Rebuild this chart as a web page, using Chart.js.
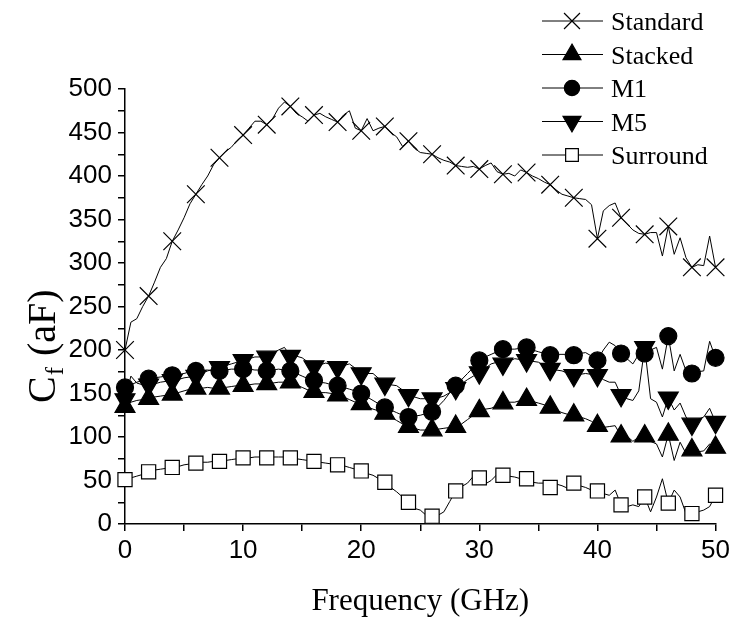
<!DOCTYPE html>
<html>
<head>
<meta charset="utf-8">
<title>Cf vs Frequency</title>
<script src="https://cdn.jsdelivr.net/npm/chart.js@4.4.0/dist/chart.umd.min.js"></script>
<style>
	html, body { margin: 0; padding: 0; background: #fff; }
	canvas { display: block; }
</style>
</head>
<body>
<canvas id="grafica" width="734" height="618"></canvas>
<script>
// Frecuencias (GHz) de cada muestra
var frecuencias = [
	0, 0.5, 1, 1.5, 2, 2.5, 3, 3.5, 4, 4.5,
	5, 5.5, 6, 6.5, 7, 7.5, 8, 8.5, 9, 9.5,
	10, 10.5, 11, 11.5, 12, 12.5, 13, 13.5, 14, 14.5,
	15, 15.5, 16, 16.5, 17, 17.5, 18, 18.5, 19, 19.5,
	20, 20.5, 21, 21.5, 22, 22.5, 23, 23.5, 24, 24.5,
	25, 25.5, 26, 26.5, 27, 27.5, 28, 28.5, 29, 29.5,
	30, 30.5, 31, 31.5, 32, 32.5, 33, 33.5, 34, 34.5,
	35, 35.5, 36, 36.5, 37, 37.5, 38, 38.5, 39, 39.5,
	40, 40.5, 41, 41.5, 42, 42.5, 43, 43.5, 44, 44.5,
	45, 45.5, 46, 46.5, 47, 47.5, 48, 48.5, 49, 49.5,
	50
];

// Cf (aF) de cada estructura
var serieStandard = [
	200, 232, 236, 250, 262, 278, 295, 305, 325, 338,
	352, 368, 379, 390, 400, 413, 421, 428, 433, 441,
	447, 455, 463, 463, 459, 466, 478, 485, 480, 472,
	468, 463, 470, 472, 468, 465, 462, 470, 475, 455,
	452, 466, 452, 455, 457, 450, 445, 434, 440, 432,
	427, 426, 425, 421, 418, 416, 412, 411, 410, 411,
	408, 412, 415, 405, 402, 403, 400, 407, 404, 400,
	397, 393, 390, 384, 379, 377, 375, 374, 373, 367,
	328, 360, 366, 369, 352, 345, 338, 334, 333, 335,
	335, 308, 342, 310, 329, 306, 295, 298, 297, 331,
	295
];
var serieStacked = [
	135, 140, 142, 143, 144, 146, 147, 148, 149, 151,
	153, 155, 156, 156, 157, 156, 156, 157, 158, 159,
	159, 160, 161, 161, 161, 162, 163, 163, 163, 160,
	157, 154, 152, 151, 151, 150, 148, 146, 143, 140,
	138, 135, 132, 130, 127, 123, 119, 115, 112, 110,
	108, 108, 108, 109, 110, 111, 112, 115, 120, 125,
	130, 132, 133, 136, 139, 140, 140, 142, 143, 141,
	139, 137, 134, 131, 128, 126, 125, 123, 121, 118,
	113, 111, 112, 113, 101, 101, 95, 100, 101, 95,
	92, 77, 103, 73, 94, 81, 85, 83, 84, 92,
	88
];
var serieM1 = [
	157, 160, 163, 165, 167, 168, 169, 170, 171, 172,
	173, 175, 176, 176, 177, 176, 176, 177, 178, 178,
	178, 178, 177, 177, 176, 177, 178, 177, 176, 173,
	170, 167, 165, 163, 162, 160, 159, 157, 155, 153,
	150, 146, 142, 138, 134, 131, 128, 125, 123, 124,
	125, 127, 129, 135, 142, 151, 159, 166, 173, 180,
	188, 192, 195, 198, 201, 201, 201, 202, 203, 200,
	198, 196, 194, 195, 195, 195, 194, 196, 197, 193,
	188, 200, 209, 205, 196, 190, 184, 195, 196, 200,
	203, 178, 216, 176, 195, 176, 173, 175, 176, 210,
	191
];
var serieM5 = [
	143, 170, 162, 160, 160, 161, 163, 164, 165, 166,
	168, 169, 170, 173, 176, 178, 180, 182, 184, 186,
	188, 190, 192, 192, 192, 196, 200, 203, 193, 193,
	191, 186, 181, 183, 185, 183, 180, 182, 184, 179,
	173, 173, 173, 167, 161, 160, 159, 154, 148, 146,
	144, 144, 144, 145, 147, 151, 156, 161, 166, 170,
	174, 179, 184, 186, 184, 187, 190, 189, 188, 187,
	186, 182, 178, 177, 176, 173, 171, 172, 173, 172,
	171, 166, 163, 163, 148, 144, 142, 153, 203, 144,
	140, 123, 145, 131, 139, 123, 115, 120, 123, 133,
	117
];
var serieSurround = [
	51, 53, 55, 57, 60, 62, 63, 64, 65, 66,
	68, 69, 70, 71, 71, 72, 72, 73, 74, 75,
	76, 76, 77, 77, 76, 77, 77, 77, 76, 75,
	74, 73, 72, 71, 70, 69, 68, 67, 65, 63,
	61, 58, 56, 52, 48, 42, 37, 31, 25, 18,
	16, 10, 9, 10, 14, 26, 38, 43, 47, 55,
	53, 46, 50, 57, 56, 55, 54, 52, 52, 48,
	47, 47, 42, 46, 44, 41, 47, 44, 42, 39,
	38, 35, 33, 39, 22, 20, 22, 20, 31, 14,
	31, 52, 24, 39, 31, 12, 12, 14, 16, 20,
	33
];

var nombres = ['Standard', 'Stacked', 'M1', 'M5', 'Surround'];

// Marcador cada 2 GHz (una de cada cuatro muestras)
var pasoMarcador = 4;

// Estilos de marcador de cada serie
var estilos = [
	{ pointStyle: 'crossRot', radius: 12.5, rotation: 0, relleno: '#000' },
	{ pointStyle: 'triangle', radius: 11.5, rotation: 0, relleno: '#000' },
	{ pointStyle: 'circle', radius: 8.5, rotation: 0, relleno: '#000' },
	{ pointStyle: 'triangle', radius: 11.5, rotation: 180, relleno: '#000' },
	{ pointStyle: 'rect', radius: 10, rotation: 0, relleno: '#fff' }
];

var valores = [serieStandard, serieStacked, serieM1, serieM5, serieSurround];

function creaSerie(i) {
	var est = estilos[i];
	return {
		label: nombres[i],
		data: frecuencias.map(function (f, k) { return { x: f, y: valores[i][k] }; }),
		borderColor: '#000',
		borderWidth: 1,
		backgroundColor: est.relleno,
		pointBackgroundColor: est.relleno,
		pointBorderColor: '#000',
		pointBorderWidth: 1.2,
		pointStyle: est.pointStyle,
		pointRotation: est.rotation,
		pointRadius: function (c) { return c.dataIndex % pasoMarcador === 0 ? est.radius : 0; },
		pointHoverRadius: function (c) { return c.dataIndex % pasoMarcador === 0 ? est.radius : 0; },
		tension: 0,
		fill: false,
		clip: false
	};
}

/* Plugin que dibuja la leyenda (linea + marcador) y los titulos de los ejes */
var decoracion = {
	id: 'decoracion',
	afterDraw: function (chart) {
		var ctx = chart.ctx;
		var fuente = '"Liberation Serif", "Times New Roman", serif';
		ctx.save();

		// Leyenda arriba a la derecha
		for (var i = 0; i < nombres.length; i++) {
			var y = 21 + i * 33.5;
			ctx.strokeStyle = '#000';
			ctx.lineWidth = 1;
			ctx.beginPath();
			ctx.moveTo(542, y);
			ctx.lineTo(603, y);
			ctx.stroke();
			ctx.fillStyle = estilos[i].relleno;
			ctx.strokeStyle = '#000';
			ctx.lineWidth = 1.2;
			Chart.helpers.drawPoint(ctx, {
				pointStyle: estilos[i].pointStyle,
				radius: estilos[i].radius * 0.9,
				rotation: estilos[i].rotation,
				borderWidth: 1.2
			}, 572, y);
			ctx.fillStyle = '#000';
			ctx.font = '26px ' + fuente;
			ctx.textAlign = 'left';
			ctx.textBaseline = 'alphabetic';
			ctx.fillText(nombres[i], 611, y + 9);
		}

		// Titulo eje X
		ctx.fillStyle = '#000';
		ctx.font = '31px ' + fuente;
		ctx.textAlign = 'center';
		ctx.textBaseline = 'alphabetic';
		ctx.fillText('Frequency (GHz)', (chart.chartArea.left + chart.chartArea.right) / 2, 610);

		// Titulo eje Y: C con subindice f
		ctx.translate(55, 403);
		ctx.rotate(-Math.PI / 2);
		ctx.textAlign = 'left';
		ctx.font = '40px ' + fuente;
		ctx.fillText('C', 0, 0);
		var ancho = ctx.measureText('C').width;
		ctx.font = '25px ' + fuente;
		ctx.fillText('f', ancho + 1, 8);
		ancho += ctx.measureText('f').width + 2;
		ctx.font = '40px ' + fuente;
		ctx.fillText(' (aF)', ancho, 0);

		ctx.restore();
	}
};

var fuenteEjes = { family: '"Liberation Sans", Arial, sans-serif', size: 26 };

var config = {
	type: 'line',
	data: { datasets: [0, 1, 2, 3, 4].map(creaSerie) },
	options: {
		responsive: false,
		animation: false,
		events: [],
		layout: { padding: { left: 0, right: 17, top: 89, bottom: 0 } },
		plugins: {
			legend: { display: false },
			tooltip: { enabled: false }
		},
		scales: {
			x: {
				type: 'linear',
				min: 0,
				max: 50,
				ticks: {
					stepSize: 5,
					autoSkip: false,
					maxRotation: 0,
					color: '#000',
					font: fuenteEjes,
					padding: 4,
					callback: function (v) { return v % 10 === 0 ? v : ''; }
				},
				grid: { drawOnChartArea: false, drawTicks: true, tickLength: 7, color: '#000', lineWidth: 1.5 },
				border: { display: true, color: '#000', width: 1.5 },
				afterFit: function (s) { s.height = 94; }
			},
			y: {
				type: 'linear',
				min: 0,
				max: 500,
				ticks: {
					stepSize: 25,
					autoSkip: false,
					color: '#000',
					font: fuenteEjes,
					padding: 6,
					callback: function (v) { return v % 50 === 0 ? v : ''; }
				},
				grid: { drawOnChartArea: false, drawTicks: true, tickLength: 7, color: '#000', lineWidth: 1.5 },
				border: { display: true, color: '#000', width: 1.5 },
				afterFit: function (s) { s.width = 125; }
			}
		}
	},
	plugins: [decoracion]
};

var miGrafica = new Chart(document.getElementById('grafica'), config);
</script>
</body>
</html>
